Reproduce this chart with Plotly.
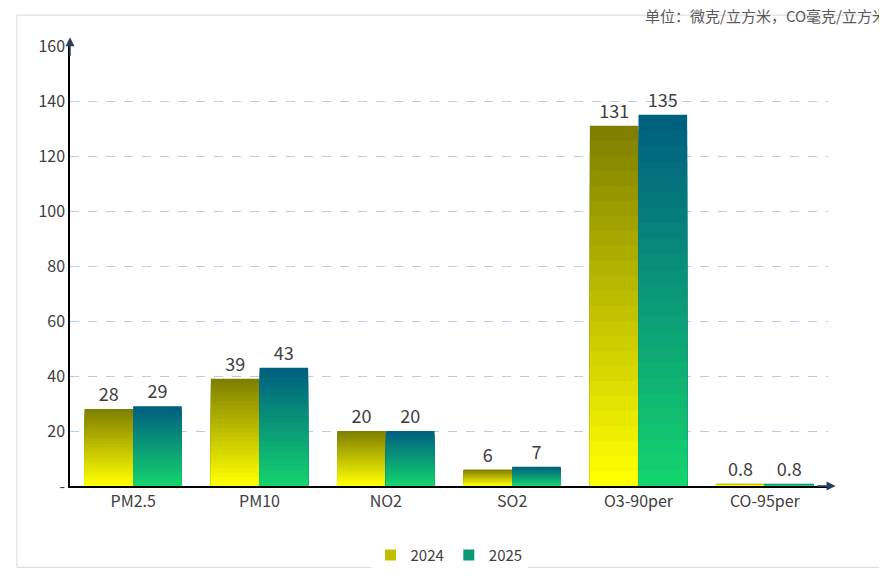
import plotly.graph_objects as go

categories = ["PM2.5", "PM10", "NO2", "SO2", "O3-90per", "CO-95per"]
v2024 = [28, 39, 20, 6, 131, 0.8]
v2025 = [29, 43, 20, 7, 135, 0.8]
labels2024 = ["28", "39", "20", "6", "131", "0.8"]
labels2025 = ["29", "43", "20", "7", "135", "0.8"]
tickvals = [0, 20, 40, 60, 80, 100, 120, 140, 160]
ticktext = ["-", "20", "40", "60", "80", "100", "120", "140", "160"]

def mix(c1, c2, t):
    return "rgb(%d,%d,%d)" % tuple(round(a + (b - a) * t) for a, b in zip(c1, c2))

N = 24
fig = go.Figure()
series = [("2024", v2024, labels2024, (128, 128, 0), (255, 255, 0), 0),
          ("2025", v2025, labels2025, (0, 96, 128), (20, 210, 110), 1)]
for name, vals, labs, top, bot, off in series:
    for k in range(N):
        f = 1 - k / N
        fig.add_bar(x=categories, y=[v * f for v in vals], name=name,
                    offsetgroup=str(off), marker=dict(color=mix(top, bot, k / (N - 1)), line_width=0),
                    showlegend=False, hoverinfo="skip",
                    text=labs if k == 0 else None, textposition="outside",
                    textfont=dict(size=18, color="#404040"), cliponaxis=False)
    fig.add_scatter(x=[None], y=[None], mode="markers", name=name,
                    marker=dict(symbol="square", size=11, color=mix(top, bot, 0.5)))

fig.update_layout(
    width=887, height=576, barmode="group", bargap=0.23, bargroupgap=0,
    paper_bgcolor="white", plot_bgcolor="white",
    margin=dict(l=62, r=67, t=38, b=86),
    font=dict(family="Noto Sans CJK SC, Liberation Sans", size=15, color="#404040"),
    legend=dict(orientation="h", x=0.5, xanchor="center", y=-0.12, yanchor="top",
                font=dict(size=15)),
    xaxis=dict(showline=True, linecolor="black", linewidth=1.5, ticks="",
               tickfont=dict(size=16), fixedrange=True),
    yaxis=dict(range=[0, 160], tickvals=tickvals, ticktext=ticktext, showline=True,
               linecolor="black", linewidth=1.5, gridcolor="#B8CCE4", griddash="dash",
               tickfont=dict(size=16), zeroline=False),
    annotations=[
        dict(text="单位：微克/立方米，CO毫克/立方米", xref="paper", yref="paper", x=1.08, y=1.04,
             xanchor="right", yanchor="bottom", showarrow=False, font=dict(size=15, color="#595959")),
        dict(x=0, y=1.02, ax=0, ay=20, xref="paper", yref="paper",
             showarrow=True, arrowhead=2, arrowsize=1.2, arrowwidth=1.5, text=""),
        dict(x=1.01, y=0, ax=-20, ay=0, xref="paper", yref="paper",
             showarrow=True, arrowhead=2, arrowsize=1.2, arrowwidth=1.5, text=""),
    ],
    shapes=[dict(type="rect", xref="paper", yref="paper", x0=-0.07, x1=1.085, y0=-0.185, y1=1.07,
                 line=dict(color="#D9D9D9", width=1))],
)
fig.write_html("out.html")
